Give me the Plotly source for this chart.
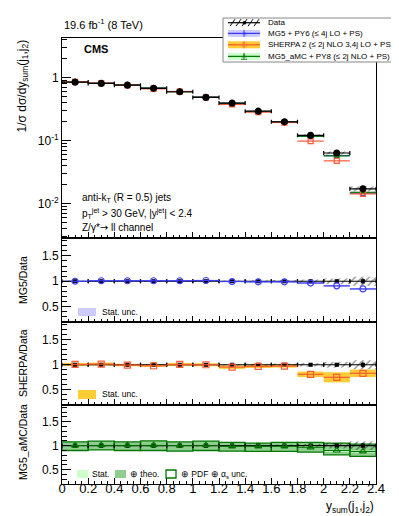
import plotly.graph_objects as go

# y_sum(j1,j2) bins
BIN_CENTER = [0.1, 0.3, 0.5, 0.7, 0.9, 1.1, 1.3, 1.5, 1.7, 1.9, 2.1, 2.3]
BIN_HALF = [0.1] * 12

# normalised cross section (data) and its relative uncertainty
DATA = [0.84, 0.80, 0.75, 0.67, 0.59, 0.48, 0.39, 0.29, 0.197, 0.12, 0.063, 0.017]
DATA_REL_UNC = [0.01, 0.01, 0.01, 0.012, 0.012, 0.014, 0.016, 0.02, 0.025, 0.035, 0.055, 0.09]
DATA_REL_STAT = [0.004, 0.004, 0.004, 0.005, 0.005, 0.006, 0.007, 0.009, 0.012, 0.018, 0.03, 0.06]

# predictions / data
MG5_RATIO = [1.0, 1.01, 1.01, 1.01, 1.01, 1.015, 0.995, 0.99, 0.99, 0.965, 0.91, 0.85]
MG5_STAT = [0.005, 0.005, 0.005, 0.005, 0.005, 0.005, 0.006, 0.006, 0.007, 0.008, 0.01, 0.012]

SHERPA_RATIO = [1.006, 1.013, 0.994, 0.98, 1.006, 1.0, 0.953, 0.966, 0.973, 0.81, 0.75, 0.83]
SHERPA_STAT = [0.03, 0.03, 0.025, 0.025, 0.03, 0.03, 0.035, 0.03, 0.03, 0.055, 0.1, 0.075]

AMC_RATIO = [1.0, 1.01, 1.01, 1.01, 1.0, 1.01, 0.987, 0.987, 0.987, 0.967, 0.90, 0.88]
AMC_STAT = [0.01, 0.01, 0.01, 0.01, 0.01, 0.01, 0.01, 0.012, 0.012, 0.015, 0.02, 0.025]
AMC_TOT_HI = [1.081, 1.095, 1.081, 1.10, 1.081, 1.095, 1.068, 1.054, 1.068, 1.068, 1.054, 1.034]
AMC_TOT_LO = [0.90, 0.913, 0.90, 0.90, 0.886, 0.90, 0.886, 0.88, 0.88, 0.866, 0.81, 0.779]

FONT = "Liberation Sans, Arial, sans-serif"
BLUE, BLUE_BAND = "#3b3bff", "#ccccff"
RED, GOLD = "#ff5a36", "#ffcc33"
GREEN, GREEN_MID, GREEN_LIGHT = "#007700", "#8fce8f", "#ccffcc"

W, H = 399, 516
L, R, T, B = 54, 31, 30, 40
PW, PH = W - L - R, H - T - B


def px(x):
    return (x - L) / PW


def py(y):
    return (H - B - y) / PH


def hatch(x, y, base, xa, ya):
    return go.Bar(x=x, y=y, base=base, width=0.2, xaxis=xa, yaxis=ya, showlegend=False,
                  marker=dict(color="rgba(0,0,0,0)", line=dict(width=0),
                              pattern=dict(shape="/", fgcolor="black", bgcolor="rgba(0,0,0,0)",
                                           size=5, solidity=0.22)),
                  hoverinfo="skip")


def band(lo, hi, color, xa, ya, line=None):
    return go.Bar(x=BIN_CENTER, y=[h - l for l, h in zip(lo, hi)], base=lo, width=0.2,
                  xaxis=xa, yaxis=ya, showlegend=False, hoverinfo="skip",
                  marker=dict(color=color, line=line or dict(width=0)))


def points(y, xa, ya, color, symbol, size, cap=0, err_y=None):
    return go.Scatter(x=BIN_CENTER, y=y, mode="markers", xaxis=xa, yaxis=ya, showlegend=False,
                      marker=dict(color=color, symbol=symbol, size=size,
                                  line=dict(color=color, width=1.2)),
                      error_x=dict(type="data", array=BIN_HALF, color=color, thickness=1.2, width=cap),
                      error_y=err_y or dict(visible=False))


fig = go.Figure()

# ---- top panel
fig.add_trace(hatch(BIN_CENTER, [d * 2 * u for d, u in zip(DATA, DATA_REL_UNC)],
                    [d * (1 - u) for d, u in zip(DATA, DATA_REL_UNC)], "x", "y"))
fig.add_trace(points([d * r for d, r in zip(DATA, MG5_RATIO)], "x", "y", BLUE, "circle-open", 5))
fig.add_trace(points([d * r for d, r in zip(DATA, AMC_RATIO)], "x", "y", GREEN, "triangle-up-open", 5))
fig.add_trace(points([d * r for d, r in zip(DATA, SHERPA_RATIO)], "x", "y", RED, "square-open", 5))
fig.add_trace(points(DATA, "x", "y", "black", "circle", 6, cap=2,
                     err_y=dict(type="data", array=[d * s for d, s in zip(DATA, DATA_REL_STAT)],
                                color="black", thickness=1, width=0)))

ONES = [1.0] * 12


def data_ratio(xa, ya):
    fig.add_trace(hatch(BIN_CENTER, [2 * u for u in DATA_REL_UNC], [1 - u for u in DATA_REL_UNC], xa, ya))
    fig.add_trace(points(ONES, xa, ya, "black", "square", 3, cap=2,
                         err_y=dict(type="data", array=DATA_REL_STAT, color="black", thickness=1, width=0)))


# ---- MG5 / data
fig.add_trace(band([r - s for r, s in zip(MG5_RATIO, MG5_STAT)],
                   [r + s for r, s in zip(MG5_RATIO, MG5_STAT)], BLUE_BAND, "x2", "y2"))
data_ratio("x2", "y2")
fig.add_trace(points(MG5_RATIO, "x2", "y2", BLUE, "circle-open", 6))

# ---- SHERPA / data
fig.add_trace(band([r - s for r, s in zip(SHERPA_RATIO, SHERPA_STAT)],
                   [r + s for r, s in zip(SHERPA_RATIO, SHERPA_STAT)], GOLD, "x3", "y3"))
data_ratio("x3", "y3")
fig.add_trace(points(SHERPA_RATIO, "x3", "y3", RED, "square-open", 6))

# ---- MG5_aMC / data
fig.add_trace(band(AMC_TOT_LO, AMC_TOT_HI, GREEN_MID, "x4", "y4"))
fig.add_trace(band([r - s for r, s in zip(AMC_RATIO, AMC_STAT)],
                   [r + s for r, s in zip(AMC_RATIO, AMC_STAT)], GREEN_LIGHT, "x4", "y4"))
fig.add_trace(band(AMC_TOT_LO, AMC_TOT_HI, "rgba(0,0,0,0)", "x4", "y4",
                   line=dict(color=GREEN, width=1.3)))
data_ratio("x4", "y4")
fig.add_trace(points(AMC_RATIO, "x4", "y4", GREEN, "triangle-up-open", 6))

# ---- axes
xcommon = dict(range=[0, 2.4], showline=True, mirror=True, linecolor="black", linewidth=1,
               ticks="inside", ticklen=6, tickcolor="black", tick0=0, dtick=0.2,
               minor=dict(ticks="inside", ticklen=3, dtick=0.05, tick0=0, tickcolor="black"),
               showgrid=False, zeroline=False, domain=[0, 1],
               tickfont=dict(family=FONT, size=13, color="black"))
ycommon = dict(showline=True, mirror=True, linecolor="black", linewidth=1, ticks="inside",
               ticklen=9, tickcolor="black", showgrid=False, zeroline=False,
               tickfont=dict(family=FONT, size=12, color="black"))
ratio_y = dict(range=[0.2, 1.85], tickvals=[0.5, 1, 1.5], ticktext=["0.5", "1", "1.5"],
               minor=dict(ticks="inside", ticklen=5, tick0=0, dtick=0.1, tickcolor="black"))

log_minor = [k * 10 ** e for e in (-3, -2, -1, 0) for k in range(2, 10)]
fig.update_layout(
    xaxis=dict(xcommon, anchor="y", showticklabels=False, matches="x4"),
    xaxis2=dict(xcommon, anchor="y2", showticklabels=False, matches="x4"),
    xaxis3=dict(xcommon, anchor="y3", showticklabels=False, matches="x4"),
    xaxis4=dict(xcommon, anchor="y4", ticklabelstandoff=-8),
    yaxis=dict(ycommon, type="log", range=[-2.55, 0.624], domain=[py(230), 1], anchor="x",
               tickvals=[0.01, 0.1, 1], ticktext=["10<sup>-2</sup>", "10<sup>-1</sup>", "1"],
               minor=dict(ticks="inside", ticklen=5, tickvals=log_minor, tickcolor="black")),
    yaxis2=dict(ycommon, **ratio_y, domain=[py(314), py(230)], anchor="x2"),
    yaxis3=dict(ycommon, **ratio_y, domain=[py(397), py(314)], anchor="x3"),
    yaxis4=dict(ycommon, **ratio_y, domain=[0, py(397)], anchor="x4"),
    barmode="overlay", width=W, height=H, showlegend=False,
    margin=dict(l=L, r=R, t=T, b=B), plot_bgcolor="white", paper_bgcolor="white",
    font=dict(family=FONT, color="black"),
)

ann = []


def text(x, y, s, size=10, xanchor="left", yanchor="middle", angle=0, color="black", bold=False):
    if bold:
        s = f"<b>{s}</b>"
    ann.append(dict(x=px(x), y=py(y), xref="paper", yref="paper", text=s, showarrow=False,
                    xanchor=xanchor, yanchor=yanchor, textangle=angle,
                    font=dict(family=FONT, size=size, color=color)))


text(54, 25, "19.6 fb<sup>-1</sup> (8 TeV)", size=11, yanchor="bottom")
text(74, 41, "CMS", size=11, bold=True)
text(72, 190, "anti-k<sub>T</sub> (R = 0.5) jets", size=10)
text(72, 205, "p<sub>T</sub><sup>jet</sup> > 30 GeV, |y<sup>jet</sup>| < 2.4", size=10)
text(72, 219, "Z/γ*<span style='font-family:DejaVu Sans'>→</span> ll channel", size=10)
text(14, 30, "1/σ dσ/dy<sub>sum</sub>(j<sub>1</sub>,j<sub>2</sub>)", size=12, xanchor="center",
     yanchor="top", angle=-90)
text(15, 272, "MG5/Data", size=10.5, xanchor="center", angle=-90)
text(15, 355, "SHERPA/Data", size=10.5, xanchor="center", angle=-90)
text(15, 434, "MG5_aMC/Data", size=10.5, xanchor="center", angle=-90)
text(368, 499, "y<sub>sum</sub>(j<sub>1</sub>,j<sub>2</sub>)", size=12, xanchor="right")

shapes = []


def rect(x0, y0, x1, y1, fill, line_color=None, lw=0):
    shapes.append(dict(type="rect", xref="paper", yref="paper", x0=px(x0), x1=px(x1),
                       y0=py(y0), y1=py(y1), fillcolor=fill, layer="above",
                       line=dict(color=line_color or fill, width=lw)))


def seg(x0, y0, x1, y1, color, lw=1.2):
    shapes.append(dict(type="line", xref="paper", yref="paper", x0=px(x0), x1=px(x1),
                       y0=py(y0), y1=py(y1), layer="above", line=dict(color=color, width=lw)))


# ratio-panel legends
rect(70, 300, 88, 308, BLUE_BAND)
text(92, 304, "Stat. unc.", size=8.5)
rect(70, 382, 88, 391, GOLD)
text(92, 386, "Stat. unc.", size=8.5)
rect(69, 462, 80, 470, GREEN_LIGHT)
text(82, 466, "Stat.", size=8.5)
rect(107, 462, 118, 470, GREEN_MID)
text(120, 466, "⊕ theo.", size=8.5)
rect(158, 462, 168, 470, "white", GREEN, 1.3)
text(171, 466, "⊕ PDF ⊕ α<sub>s</sub> unc.", size=8.5)

# main legend box
rect(215, 10, 387, 54, "white", "#888888", 1)
rows = [14.7, 25.4, 36.8, 48.4]
labels = ["Data", "MG5 + PY6 (≤ 4j LO + PS)", "SHERPA 2 (≤ 2j NLO 3,4j LO + PS)",
          "MG5_aMC + PY8 (≤ 2j NLO + PS)"]
for yy, lab in zip(rows, labels):
    text(258, yy, lab, size=8)
# data: hatch + marker
for xs in range(222, 252, 6):
    seg(xs, rows[0] + 3.5, xs + 5, rows[0] - 3.5, "black", 1)
seg(220, rows[0], 252, rows[0], "black", 1.2)
text(236, rows[0], "●", size=8, xanchor="center")
# MC entries
for yy, bcol, lcol, sym in [(rows[1], BLUE_BAND, BLUE, "○"), (rows[2], GOLD, RED, "□"),
                            (rows[3], GREEN_LIGHT, GREEN, "△")]:
    rect(220, yy - 3.5, 252, yy + 3.5, bcol)
    seg(220, yy, 252, yy, lcol, 1.3)
    seg(236, yy - 3.5, 236, yy + 3.5, lcol, 1)
    text(236, yy, sym, size=8, xanchor="center", color=lcol)

fig.update_layout(annotations=ann, shapes=shapes)
fig.write_html("out.html")
